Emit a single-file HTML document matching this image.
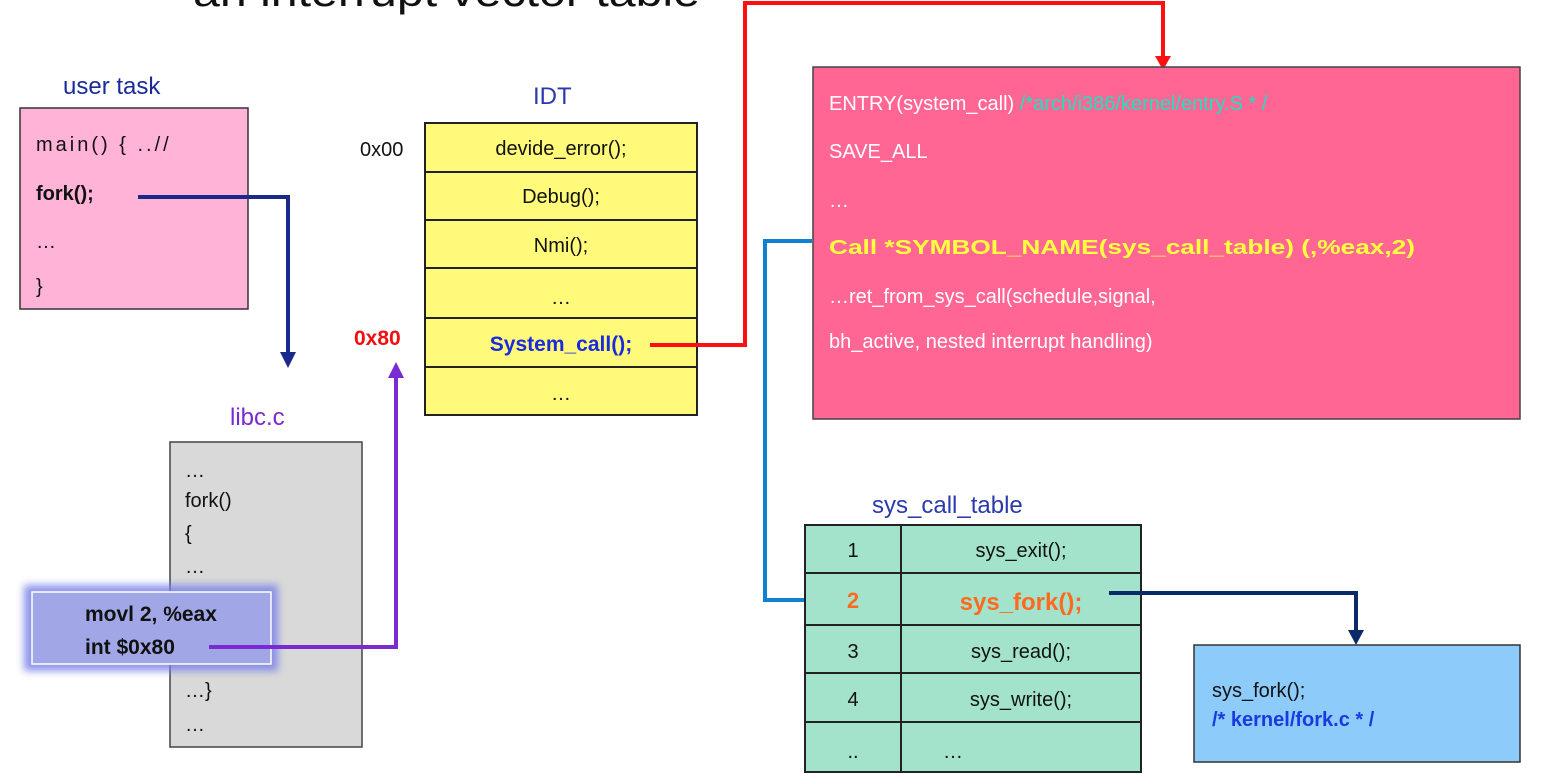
<!DOCTYPE html>
<html><head><meta charset="utf-8"><style>
html,body{margin:0;padding:0;background:#fff;width:1541px;height:774px;overflow:hidden}
svg{display:block}
text{font-family:"Liberation Sans",Arial,sans-serif}
</style></head><body>
<svg width="1541" height="774" viewBox="0 0 1541 774" xmlns="http://www.w3.org/2000/svg">
<defs>
<filter id="glow" x="-20%" y="-30%" width="140%" height="160%"><feGaussianBlur stdDeviation="4"/></filter>
</defs>
<!-- title -->
<text x="193" y="6" font-size="42" fill="#111" textLength="507" lengthAdjust="spacingAndGlyphs">an interrupt vector table</text>

<!-- user task -->
<text x="63" y="94" font-size="24" fill="#1a2a9a">user task</text>
<rect x="20" y="108" width="228" height="201" fill="#ffb3d6" stroke="#333" stroke-width="1.5"/>
<text x="36" y="151" font-size="20" fill="#111" letter-spacing="3">main() { ..//</text>
<text x="36" y="200" font-size="20" font-weight="bold" fill="#111">fork();</text>
<text x="36" y="248" font-size="20" fill="#111">…</text>
<text x="36" y="293" font-size="20" fill="#111">}</text>

<!-- IDT -->
<text x="533" y="104" font-size="24" fill="#2b3aaa">IDT</text>
<g stroke="#222" stroke-width="2" fill="#fffa7a">
<rect x="425" y="123" width="272" height="49"/>
<rect x="425" y="172" width="272" height="48"/>
<rect x="425" y="220" width="272" height="48"/>
<rect x="425" y="268" width="272" height="50"/>
<rect x="425" y="318" width="272" height="49"/>
<rect x="425" y="367" width="272" height="48"/>
</g>
<g font-size="20" fill="#111" text-anchor="middle">
<text x="561" y="155">devide_error();</text>
<text x="561" y="203">Debug();</text>
<text x="561" y="252">Nmi();</text>
<text x="561" y="304">…</text>
<text x="561" y="400">…</text>
</g>
<text x="561" y="351" font-size="21" font-weight="bold" fill="#1a2ae0" text-anchor="middle">System_call();</text>
<text x="360" y="156" font-size="20" fill="#111">0x00</text>
<text x="354" y="345" font-size="21" font-weight="bold" fill="#f01010">0x80</text>

<!-- red connector -->
<polyline points="650,345 745,345 745,3 1163,3 1163,58" fill="none" stroke="#ff1010" stroke-width="4"/>
<polygon points="1155,56 1171,56 1163,70" fill="#ff1010"/>

<!-- entry box -->
<rect x="813" y="67" width="707" height="352" fill="#ff6694" stroke="#444" stroke-width="1.5"/>
<text x="829" y="110" font-size="20" fill="#fff">ENTRY(system_call) <tspan fill="#20e0c0">/*arch/i386/kernel/entry.S * /</tspan></text>
<text x="829" y="158" font-size="20" fill="#fff">SAVE_ALL</text>
<text x="829" y="207" font-size="20" fill="#fff">…</text>
<text x="829" y="254" font-size="20" font-weight="bold" fill="#ffff40" textLength="586" lengthAdjust="spacingAndGlyphs">Call *SYMBOL_NAME(sys_call_table) (,%eax,2)</text>
<text x="829" y="303" font-size="20" fill="#fff">…ret_from_sys_call(schedule,signal,</text>
<text x="829" y="348" font-size="20" fill="#fff">bh_active, nested interrupt handling)</text>

<!-- blue connector -->
<polyline points="812,241 765,241 765,600 826,600" fill="none" stroke="#1080d0" stroke-width="4"/>
<polygon points="824,592 838,600 824,608" fill="#1080d0"/>

<!-- libc -->
<text x="230" y="425" font-size="24" fill="#7a2ad0">libc.c</text>
<rect x="170" y="442" width="192" height="305" fill="#d9d9d9" stroke="#444" stroke-width="1.5"/>
<g font-size="20" fill="#111">
<text x="185" y="477">…</text>
<text x="185" y="507">fork()</text>
<text x="185" y="540">{</text>
<text x="185" y="573">…</text>
<text x="185" y="697">…}</text>
<text x="185" y="731">…</text>
</g>
<rect x="24" y="585" width="254" height="86" fill="#7a82e8" filter="url(#glow)" opacity="0.85"/>
<rect x="32" y="592" width="239" height="72" fill="#a0a6e6" stroke="#fff" stroke-width="1.5"/>
<text x="85" y="621" font-size="21" font-weight="bold" fill="#111">movl 2, %eax</text>
<text x="85" y="654" font-size="21" font-weight="bold" fill="#111">int $0x80</text>

<!-- purple connector -->
<polyline points="209,647 396,647 396,376" fill="none" stroke="#7a2ad0" stroke-width="4"/>
<polygon points="388,378 404,378 396,362" fill="#7a2ad0"/>

<!-- dark blue fork connector -->
<polyline points="138,197 288,197 288,354" fill="none" stroke="#1a2a8a" stroke-width="4"/>
<polygon points="280,352 296,352 288,368" fill="#1a2a8a"/>

<!-- sys_call_table -->
<text x="872" y="513" font-size="24" fill="#2b3aaa">sys_call_table</text>
<g stroke="#222" stroke-width="2" fill="#a3e3cb">
<rect x="805" y="525" width="96" height="48"/><rect x="901" y="525" width="240" height="48"/>
<rect x="805" y="573" width="96" height="52"/><rect x="901" y="573" width="240" height="52"/>
<rect x="805" y="625" width="96" height="48"/><rect x="901" y="625" width="240" height="48"/>
<rect x="805" y="673" width="96" height="49"/><rect x="901" y="673" width="240" height="49"/>
<rect x="805" y="722" width="96" height="50"/><rect x="901" y="722" width="240" height="50"/>
</g>
<g font-size="20" fill="#111" text-anchor="middle">
<text x="853" y="557">1</text><text x="1021" y="557">sys_exit();</text>
<text x="853" y="658">3</text><text x="1021" y="658">sys_read();</text>
<text x="853" y="706">4</text><text x="1021" y="706">sys_write();</text>
<text x="853" y="758">..</text><text x="953" y="758">…</text>
</g>
<text x="853" y="608" font-size="22" font-weight="bold" fill="#ff6a20" text-anchor="middle">2</text>
<text x="1021" y="610" font-size="24" font-weight="bold" fill="#ff6a20" text-anchor="middle">sys_fork();</text>

<!-- fork connector -->
<polyline points="1109,593 1356,593 1356,632" fill="none" stroke="#0a2a6a" stroke-width="4"/>
<polygon points="1348,630 1364,630 1356,645" fill="#0a2a6a"/>

<!-- sys_fork box -->
<rect x="1194" y="645" width="326" height="117" fill="#8ccbfa" stroke="#333" stroke-width="1.5"/>
<text x="1212" y="697" font-size="20" fill="#111">sys_fork();</text>
<text x="1212" y="726" font-size="20" font-weight="bold" fill="#1a3ae0">/* kernel/fork.c * /</text>
</svg>
</body></html>
